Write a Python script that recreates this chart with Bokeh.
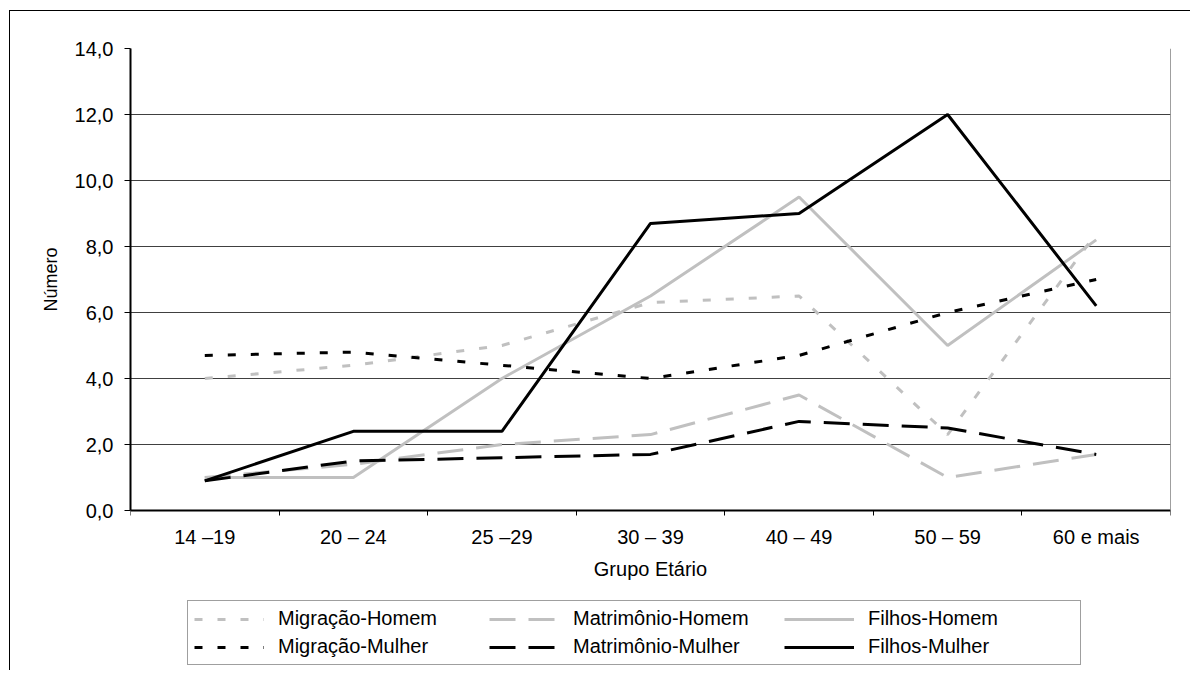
from bokeh.plotting import figure
from bokeh.models import Legend, LegendItem, FixedTicker, Range1d, LinearAxis, Title
from bokeh.embed import file_html
from bokeh.resources import INLINE

# ---- data ----
categories = ["14 –19", "20 – 24", "25 –29", "30 – 39", "40 – 49", "50 – 59", "60 e mais"]
migracao_homem = [4.0, 4.4, 5.0, 6.3, 6.5, 2.3, 8.4]
matrimonio_homem = [1.0, 1.4, 2.0, 2.3, 3.5, 1.0, 1.7]
filhos_homem = [1.0, 1.0, 4.0, 6.5, 9.5, 5.0, 8.2]
migracao_mulher = [4.7, 4.8, 4.4, 4.0, 4.7, 6.0, 7.0]
matrimonio_mulher = [0.9, 1.5, 1.6, 1.7, 2.7, 2.5, 1.7]
filhos_mulher = [0.9, 2.4, 2.4, 8.7, 9.0, 12.0, 6.2]
y_ticks = [0, 2, 4, 6, 8, 10, 12, 14]
y_tick_labels = ["0,0", "2,0", "4,0", "6,0", "8,0", "10,0", "12,0", "14,0"]
x_title = "Grupo Etário"
y_title = "Número"

FONT = "Liberation Sans"
GRAY = "#c0c0c0"

# ---- layout constants ----
Y_MAX = 14
PX_PER_UNIT = 33          # 462 px for 14 units
FRAME_H = 622             # plot area + room below it for axis labels and legend
Y_MIN = Y_MAX - FRAME_H / PX_PER_UNIT

xs = [i + 0.5 for i in range(len(categories))]
boundaries = list(range(len(categories) + 1))

p = figure(
    frame_width=1040, frame_height=FRAME_H,
    min_border_left=120, min_border_right=20, min_border_top=37, min_border_bottom=0,
    x_range=Range1d(0, len(categories)), y_range=Range1d(Y_MIN, Y_MAX),
    output_backend="svg", toolbar_location=None,
    background_fill_color="white", border_fill_color="white",
)
p.styles = {
    "margin-left": "9px", "margin-top": "10px",
    "border-left": "1px solid black", "border-top": "1px solid black",
}
p.outline_line_color = None

# grid
p.xgrid.visible = False
p.ygrid.grid_line_color = "#404040"
p.ygrid.grid_line_width = 1

# y axis
p.yaxis.ticker = FixedTicker(ticks=y_ticks)
p.yaxis.bounds = (0, Y_MAX)
p.yaxis.major_label_overrides = dict(zip(y_ticks, y_tick_labels))
p.yaxis.axis_line_color = "black"
p.yaxis.axis_line_width = 2
p.yaxis.major_tick_out = 6
p.yaxis.major_tick_in = 0
p.yaxis.major_tick_line_color = "black"
p.yaxis.minor_tick_line_color = None
p.yaxis.major_label_standoff = 11
p.yaxis.major_label_text_font = FONT
p.yaxis.major_label_text_font_size = "20px"
p.yaxis.major_label_text_color = "black"

# y title, placed beside the 0-14 part of the frame
y_label = Title(
    text=y_title, align="left", offset=359, standoff=22,
    text_font=FONT, text_font_size="18px", text_font_style="normal",
    text_color="black",
)
p.add_layout(y_label, "left")

# x axis (drawn at y = 0 inside the extended frame)
p.xaxis.fixed_location = 0
p.xaxis.bounds = (0, len(categories))
p.xaxis.ticker = FixedTicker(ticks=xs, minor_ticks=boundaries)
p.xaxis.major_label_overrides = dict(zip(xs, categories))
p.xaxis.axis_line_color = "black"
p.xaxis.axis_line_width = 2
p.xaxis.major_tick_line_color = None
p.xaxis.major_tick_out = 5
p.xaxis.major_tick_in = 0
p.xaxis.minor_tick_line_color = "black"
p.xaxis.minor_tick_out = 5
p.xaxis.minor_tick_in = 0
p.xaxis.major_label_standoff = 10
p.xaxis.major_label_text_font = FONT
p.xaxis.major_label_text_font_size = "20px"
p.xaxis.major_label_text_color = "black"
p.xaxis.axis_label = x_title
p.xaxis.axis_label_text_font = FONT
p.xaxis.axis_label_text_font_size = "20px"
p.xaxis.axis_label_text_font_style = "normal"
p.xaxis.axis_label_text_color = "black"
p.xaxis.axis_label_standoff = 7

# right border of the plot area
right_axis = LinearAxis(
    fixed_location=len(categories), bounds=(0, Y_MAX),
    ticker=FixedTicker(ticks=[]),
    axis_line_color="#404040", axis_line_width=1,
    major_tick_line_color=None, minor_tick_line_color=None,
    major_label_text_alpha=0,
)
p.add_layout(right_axis, "right")

series = [
    ("Migração-Homem", migracao_homem, GRAY, "8 15"),
    ("Matrimônio-Homem", matrimonio_homem, GRAY, "26 13"),
    ("Filhos-Homem", filhos_homem, GRAY, "solid"),
    ("Migração-Mulher", migracao_mulher, "black", "8 15"),
    ("Matrimônio-Mulher", matrimonio_mulher, "black", "26 13"),
    ("Filhos-Mulher", filhos_mulher, "black", "solid"),
]

items = []
for label, vals, color, dash in series:
    r = p.line(xs, vals, line_color=color, line_width=3, line_dash=dash)
    items.append(LegendItem(label=label, renderers=[r]))

legend = Legend(
    items=items,
    orientation="horizontal", ncols=3, nrows=2,
    location=(57, 5),
    padding=6, spacing=5, margin=0,
    glyph_width=70, glyph_height=20,
    label_standoff=14, label_width=206,
    label_text_font=FONT, label_text_font_size="20px", label_text_color="black",
    border_line_color="#404040", border_line_width=1,
    background_fill_color="white", background_fill_alpha=1,
)
p.add_layout(legend)

open("out.html", "w").write(file_html(p, INLINE))
